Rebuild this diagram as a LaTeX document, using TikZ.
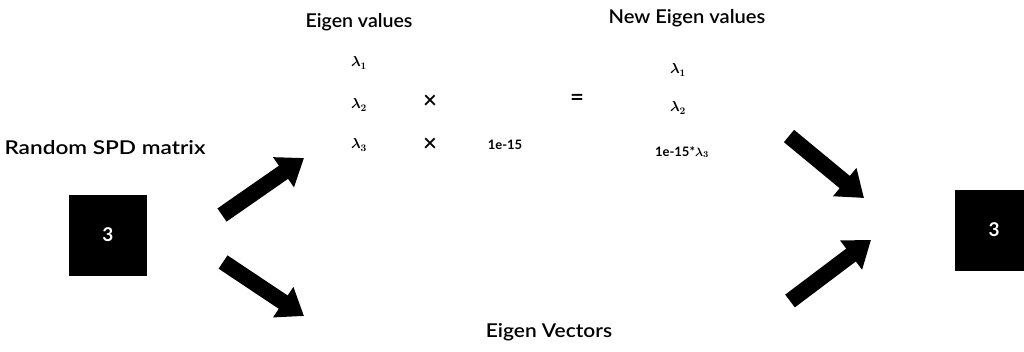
\documentclass[tikz,border=0pt]{standalone}
\usepackage{fontspec}
\usepackage{graphicx}
\setmainfont{Lato}
\newfontfamily\headfont{Lato Semibold}
\newfontfamily\heavyfont{Lato Bold}
\usetikzlibrary{arrows.meta}
\begin{document}
\begin{tikzpicture}[x=1pt,y=-1pt,
  head/.style={font=\fontsize{19}{21}\headfont, inner sep=0pt},
  small/.style={font=\fontsize{13}{15}\heavyfont\boldmath, inner sep=0pt},
  lam/.style={font=\fontsize{14.5}{16}\selectfont\boldmath, inner sep=0pt},
  op/.style={font=\fontsize{24}{26}\headfont, inner sep=0pt},
  mat/.style={fill=black, text=white, minimum width=78pt, minimum height=81pt, inner sep=0pt, font=\fontsize{19}{21}\heavyfont},
  bigarrow/.style={line width=16pt, -{Triangle[length=25pt,width=35pt]}}]
\useasboundingbox (0,0) rectangle (1024,351);
\fill[white] (0,0) rectangle (1024,351);
% headings
\node[head] (ev) at (359,22) {\scalebox{1.03}[1]{Eigen values}};
\node[head] (nev) at (687,18) {\scalebox{1.06}[1]{New Eigen values}};
\node[head] (spd) at (105,148) {\scalebox{1.19}[1]{Random SPD matrix}};
\node[head] (evec) at (549,332) {\scalebox{1.1}[1]{Eigen Vectors}};
% matrices
\node[mat] (m1) at (108,235) {3};
\node[mat] (m2) at (994,230) {3};
% left eigenvalues
\node[lam] (l1) at (359,63) {$\lambda_1$};
\node[lam] (l2) at (359,105) {$\lambda_2$};
\node[lam] (l3) at (359,145) {$\lambda_3$};
\node[op] (x1) at (430,102) {×};
\node[op] (x2) at (430,145) {×};
\node[small] (eps) at (505,145) {1e-15};
\node[op] (eq) at (577,100) {=};
% new eigenvalues
\node[lam] (n1) at (678,70) {$\lambda_1$};
\node[lam] (n2) at (678,108) {$\lambda_2$};
\node[small] (n3) at (682,152) {1e-15*$\lambda_3$};
% arrows
\coordinate (a1s) at (222,215); \coordinate (a1e) at (304,158);
\coordinate (a2s) at (223,262); \coordinate (a2e) at (304,316);
\coordinate (a3s) at (789,136); \coordinate (a3e) at (864,198);
\coordinate (a4s) at (790,301); \coordinate (a4e) at (871,240);
\draw[bigarrow] (a1s) -- (a1e);
\draw[bigarrow] (a2s) -- (a2e);
\draw[bigarrow] (a3s) -- (a3e);
\draw[bigarrow] (a4s) -- (a4e);
\end{tikzpicture}
\end{document}
